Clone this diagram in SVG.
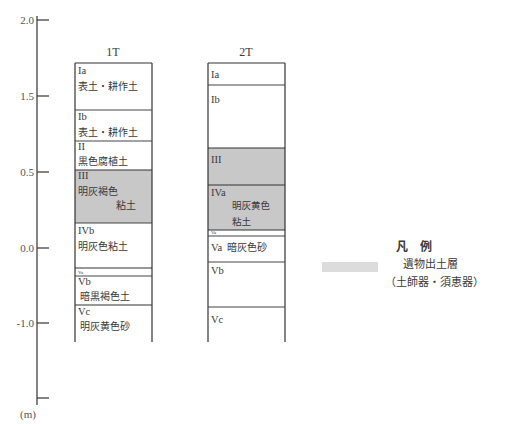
<svg xmlns="http://www.w3.org/2000/svg" width="507" height="424" viewBox="0 0 507 424">
<style>
.ln{stroke:#333;stroke-width:1.2;fill:none}
.lt{stroke:#444;stroke-width:1;fill:none}
.gray{fill:#c8c8c8}
text{font-family:"Liberation Serif","Noto Sans CJK JP",serif;fill:#3a3a3a}
.ax{font-size:11px;text-anchor:end;fill:#555}
.lb{font-size:10.5px}
.jp{font-family:"Noto Sans CJK JP","Liberation Serif",serif;font-size:10px}
.tiny{font-size:5px}
.hd{font-size:12px;text-anchor:middle}
</style>
<rect width="507" height="424" fill="#fff"/>
<g id="axis">
<line class="ln" x1="37" y1="16" x2="37" y2="405"/>
<line class="ln" x1="37" y1="20" x2="49" y2="20"/>
<line class="ln" x1="37" y1="96" x2="49" y2="96"/>
<line class="ln" x1="37" y1="172" x2="49" y2="172"/>
<line class="ln" x1="37" y1="248" x2="49" y2="248"/>
<line class="ln" x1="37" y1="323" x2="49" y2="323"/>
<line class="ln" x1="37" y1="398" x2="49" y2="398"/>
<text class="ax" x="34" y="24">2.0</text>
<text class="ax" x="34" y="100">1.5</text>
<text class="ax" x="34" y="176">0.5</text>
<text class="ax" x="34" y="252">0.0</text>
<text class="ax" x="34" y="327">-1.0</text>
<text class="ax" x="36" y="418">(m)</text>
</g>
<g id="col-1T">
<text class="hd" x="113" y="56">1T</text>
<rect class="gray" x="75" y="170" width="77" height="53"/>
<line class="ln" x1="75" y1="63" x2="152" y2="63"/>
<line class="ln" x1="75" y1="63" x2="75" y2="342"/>
<line class="ln" x1="152" y1="63" x2="152" y2="342"/>
<line class="lt" x1="75" y1="110" x2="152" y2="110"/>
<line class="lt" x1="75" y1="141" x2="152" y2="141"/>
<line class="ln" x1="75" y1="170" x2="152" y2="170"/>
<line class="lt" x1="75" y1="223" x2="152" y2="223"/>
<line class="ln" x1="75" y1="268" x2="152" y2="268"/>
<line class="lt" x1="75" y1="276" x2="152" y2="276"/>
<line class="ln" x1="75" y1="305" x2="152" y2="305"/>
<text class="lb" x="78" y="74">Ia</text>
<text class="jp" x="78" y="90">表土・耕作土</text>
<text class="lb" x="78" y="120">Ib</text>
<text class="jp" x="78" y="136">表土・耕作土</text>
<text class="lb" x="78" y="150">II</text>
<text class="jp" x="78" y="165">黒色腐植土</text>
<text class="lb" x="78" y="179">III</text>
<text class="jp" x="78" y="195">明灰褐色</text>
<text class="jp" x="116" y="209">粘土</text>
<text class="lb" x="78" y="234">IVb</text>
<text class="jp" x="78" y="250">明灰色粘土</text>
<text class="tiny" x="78" y="274">Va</text>
<text class="lb" x="78" y="285">Vb</text>
<text class="jp" x="80" y="300">暗黒褐色土</text>
<text class="lb" x="78" y="315">Vc</text>
<text class="jp" x="80" y="330">明灰黄色砂</text>
</g>
<g id="col-2T">
<text class="hd" x="246" y="56">2T</text>
<rect class="gray" x="208" y="148" width="77" height="82"/>
<line class="ln" x1="208" y1="63" x2="285" y2="63"/>
<line class="ln" x1="208" y1="63" x2="208" y2="342"/>
<line class="ln" x1="285" y1="63" x2="285" y2="342"/>
<line class="lt" x1="208" y1="85" x2="285" y2="85"/>
<line class="ln" x1="208" y1="148" x2="285" y2="148"/>
<line class="ln" x1="208" y1="185" x2="285" y2="185"/>
<line class="ln" x1="208" y1="230" x2="285" y2="230"/>
<line class="lt" x1="208" y1="236" x2="285" y2="236"/>
<line class="lt" x1="208" y1="262" x2="285" y2="262"/>
<line class="lt" x1="208" y1="307" x2="285" y2="307"/>
<text class="lb" x="211" y="78">Ia</text>
<text class="lb" x="211" y="103">Ib</text>
<text class="lb" x="211" y="163">III</text>
<text class="lb" x="211" y="196">IVa</text>
<text class="jp" x="232" y="209" style="font-size:9.5px">明灰黄色</text>
<text class="jp" x="232" y="225" style="font-size:9.5px">粘土</text>
<text class="tiny" x="211" y="234">Va</text>
<text class="lb" x="211" y="251">Va</text>
<text class="jp" x="227" y="251">暗灰色砂</text>
<text class="lb" x="211" y="274">Vb</text>
<text class="lb" x="211" y="323">Vc</text>
</g>
<g id="legend">
<rect x="322" y="262" width="56" height="10" fill="#dcdcdc"/>
<text class="jp" x="396" y="251" style="font-size:12px;font-weight:bold">凡　例</text>
<text class="jp" x="403" y="268" style="font-size:11px">遺物出土層</text>
<text class="jp" x="385" y="286" style="font-size:11px">（土師器・須恵器）</text>
</g>
</svg>
